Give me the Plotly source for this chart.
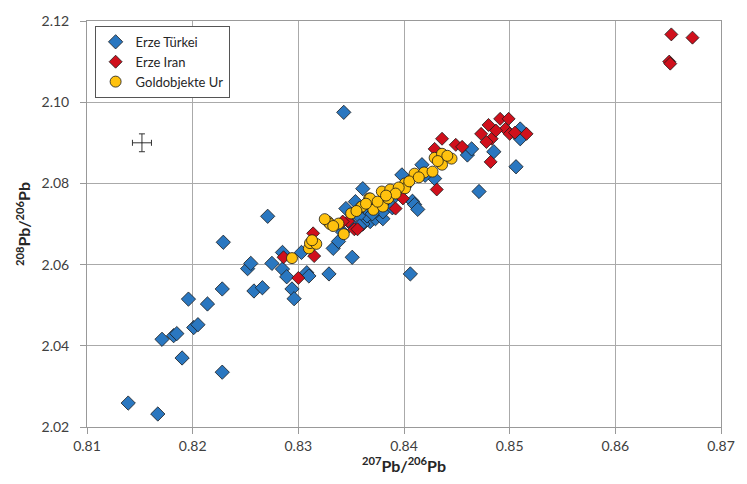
import plotly.graph_objects as go

# ---- data ----
turkei_x = [0.8139, 0.8167, 0.8171, 0.8182, 0.8185, 0.8190, 0.8201, 0.8205, 0.8196, 0.8214,
            0.8228, 0.8228, 0.8229, 0.8252, 0.8255, 0.8258, 0.8266, 0.8271, 0.8275, 0.8285,
            0.8285, 0.8289, 0.8294, 0.8296, 0.8303, 0.8308, 0.8310, 0.8329, 0.8333, 0.8338,
            0.8342, 0.8343, 0.8351, 0.8345, 0.8354, 0.8361, 0.8362, 0.8368, 0.8361, 0.8373,
            0.8380, 0.8365, 0.8398, 0.8406, 0.8408, 0.8410, 0.8413, 0.8417, 0.8429, 0.8460,
            0.8464, 0.8471, 0.8485, 0.8506, 0.8510, 0.8510, 0.8350, 0.8357, 0.8375, 0.8385,
            0.8392, 0.8400, 0.8403, 0.8420, 0.8380, 0.8389, 0.8358, 0.8370]
turkei_y = [2.0259, 2.0232, 2.0416, 2.0425, 2.0430, 2.0370, 2.0445, 2.0452, 2.0515, 2.0503,
            2.0540, 2.0335, 2.0655, 2.0590, 2.0603, 2.0535, 2.0543, 2.0719, 2.0603, 2.0630,
            2.0589, 2.0570, 2.0540, 2.0516, 2.0630, 2.0580, 2.0572, 2.0577, 2.0640, 2.0657,
            2.0680, 2.0975, 2.0618, 2.0738, 2.0755, 2.0787, 2.0713, 2.0706, 2.0700, 2.0713,
            2.0713, 2.0720, 2.0821, 2.0577, 2.0756, 2.0748, 2.0736, 2.0846, 2.0812, 2.0870,
            2.0885, 2.0780, 2.0878, 2.0841, 2.0934, 2.0910, 2.0700, 2.0720, 2.0745, 2.0765,
            2.0770, 2.0790, 2.0800, 2.0820, 2.0730, 2.0740, 2.0695, 2.0725]

iran_x = [0.8286, 0.8300, 0.8315, 0.8314, 0.8347, 0.8353, 0.8356, 0.8392, 0.8399, 0.8431,
          0.8429, 0.8436, 0.8449, 0.8455, 0.8482, 0.8473, 0.8480, 0.8491, 0.8496, 0.8500,
          0.8516, 0.8483, 0.8478, 0.8499, 0.8487, 0.8505, 0.8342, 0.8653, 0.8673, 0.8651,
          0.8652]
iran_y = [2.0618, 2.0567, 2.0621, 2.0677, 2.0707, 2.0687, 2.0687, 2.0738, 2.0763, 2.0785,
          2.0885, 2.0910, 2.0895, 2.0890, 2.0853, 2.0922, 2.0944, 2.0959, 2.0934, 2.0922,
          2.0922, 2.0910, 2.0902, 2.0959, 2.0930, 2.0925, 2.0706, 2.1167, 2.1159, 2.1100,
          2.1095]

ur_x = [0.8294, 0.8310, 0.8311, 0.8317, 0.8328, 0.8330, 0.8338, 0.8343, 0.8350, 0.8359,
        0.8360, 0.8367, 0.8368, 0.8371, 0.8379, 0.8380, 0.8385, 0.8387, 0.8401, 0.8401,
        0.8410, 0.8419, 0.8427, 0.8429, 0.8436, 0.8436, 0.8445, 0.8395, 0.8375, 0.8313,
        0.8325, 0.8333, 0.8355, 0.8364, 0.8392, 0.8405, 0.8414, 0.8432, 0.8441, 0.8383]
ur_y = [2.0616, 2.0640, 2.0653, 2.0651, 2.0706, 2.0700, 2.0701, 2.0675, 2.0726, 2.0741,
        2.0743, 2.0763, 2.0763, 2.0735, 2.0780, 2.0743, 2.0763, 2.0785, 2.0800, 2.0788,
        2.0824, 2.0827, 2.0829, 2.0863, 2.0873, 2.0846, 2.0861, 2.0790, 2.0755, 2.0660,
        2.0712, 2.0695, 2.0732, 2.0750, 2.0775, 2.0805, 2.0815, 2.0855, 2.0868, 2.0770]

err_x = [0.8152]
err_y = [2.0900]
err_dx = [0.0009]
err_dy = [0.0022]

names = ["Erze Türkei", "Erze Iran", "Goldobjekte Ur"]

fig = go.Figure()
outline = dict(color="#1a1a1a", width=0.8)
fig.add_trace(go.Scatter(x=turkei_x, y=turkei_y, mode="markers", name=names[0],
                         marker=dict(symbol="diamond", size=11, color="#2a77c0", line=outline)))
fig.add_trace(go.Scatter(x=iran_x, y=iran_y, mode="markers", name=names[1],
                         marker=dict(symbol="diamond", size=10, color="#d0101c", line=outline)))
fig.add_trace(go.Scatter(x=ur_x, y=ur_y, mode="markers", name=names[2],
                         marker=dict(symbol="circle", size=11, color="#ffc20e", line=outline)))
fig.add_trace(go.Scatter(x=err_x, y=err_y, mode="markers", showlegend=False,
                         marker=dict(size=1, color="#333333"),
                         error_x=dict(type="data", array=err_dx, color="#333333", thickness=1, width=3),
                         error_y=dict(type="data", array=err_dy, color="#333333", thickness=1, width=3)))

axis_common = dict(showgrid=True, gridcolor="#aaaaaa", gridwidth=1,
                   showline=True, linecolor="#999999", linewidth=1, mirror=True,
                   ticks="outside", ticklen=6, tickcolor="#999999", zeroline=False,
                   tickfont=dict(family="Lato, Open Sans, sans-serif", size=14, color="#404040"))

fig.update_layout(
    width=747, height=484,
    margin=dict(l=87, r=16, t=18, b=57),
    paper_bgcolor="white", plot_bgcolor="white",
    font=dict(family="Lato, Open Sans, sans-serif"),
    xaxis=dict(range=[0.81, 0.87], dtick=0.01, tick0=0.81, tickformat=".2f",
               title=dict(text="<b><sup>207</sup>Pb/<sup>206</sup>Pb</b>", standoff=6,
                          font=dict(size=16, color="#262626")),
               **axis_common),
    yaxis=dict(range=[2.02, 2.12], dtick=0.02, tick0=2.02, tickformat=".2f",
               title=dict(text="<b><sup>208</sup>Pb/<sup>206</sup>Pb</b>", standoff=6,
                          font=dict(size=16, color="#262626")),
               ticklabelstandoff=8,
               **axis_common),
    legend=dict(x=0.012, y=0.988, xanchor="left", yanchor="top",
                bgcolor="white", bordercolor="#555555", borderwidth=1,
                font=dict(family="Lato, Open Sans, sans-serif", size=13, color="#262626"),
                itemwidth=30, tracegroupgap=0),
    showlegend=True,
)

fig.write_html("out.html")
